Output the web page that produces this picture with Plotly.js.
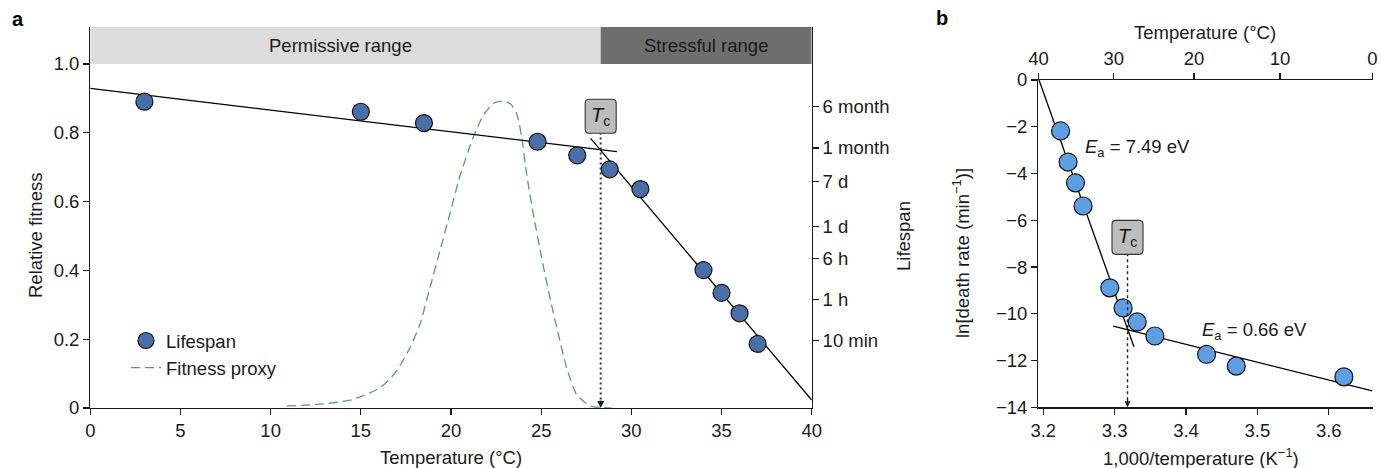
<!DOCTYPE html>
<html>
<head>
<meta charset="utf-8">
<script src="https://cdn.plot.ly/plotly-3.0.1.min.js"></script>
<style>html,body{margin:0;padding:0;background:#fff;}#chart{width:1381px;height:468px;}</style>
</head>
<body>
<div id="chart"></div>
<script>
// ---------- Data (panel a) ----------
const A_TEMP = [3, 15, 18.5, 24.8, 27, 28.8, 30.5, 34, 35, 36, 37];
const A_LIFESPAN_MIN = [322000, 208400, 127600, 56600, 31400, 17100, 7260, 215, 80, 32.9, 8.7];
const A_FIT1_T = [0, 29.2];
const A_FIT1_L = [575000, 36700];
const A_FIT2_T = [27.74, 40];
const A_FIT2_L = [65600, 0.762];
const PROXY_T = [10.9, 12.74, 14.59, 16.07, 16.99, 17.73, 18.28, 18.84, 19.39, 19.94, 20.5, 21.24, 21.79, 22.34, 22.81, 23.27, 23.64, 23.92, 24.19, 24.56, 25.02, 25.48, 25.95, 26.41, 26.96, 27.7, 28.44, 28.9];
const PROXY_FIT = [0.006, 0.011, 0.025, 0.059, 0.108, 0.176, 0.244, 0.351, 0.458, 0.565, 0.675, 0.788, 0.851, 0.885, 0.892, 0.885, 0.856, 0.788, 0.681, 0.565, 0.438, 0.322, 0.215, 0.117, 0.040, 0.006, 0.001, 0];
const A_XTICKS = [0, 5, 10, 15, 20, 25, 30, 35, 40];
const A_YTICKS = [0, 0.2, 0.4, 0.6, 0.8, 1.0];
const A_YTICKTEXT = ['0', '0.2', '0.4', '0.6', '0.8', '1.0'];
const LIFE_TICK_MIN = [10, 60, 360, 1440, 10080, 43200, 259200];
const LIFE_TICK_TEXT = ['10 min', '1 h', '6 h', '1 d', '7 d', '1 month', '6 month'];
const RANGES = ['Permissive range', 'Stressful range'];
const RANGE_EDGES = [0, 28.3, 40];
const TC_A = 28.3;

// ---------- Data (panel b) ----------
const B_INVT = [3.2242, 3.2347, 3.2451, 3.2557, 3.2932, 3.3118, 3.3316, 3.3563, 3.4288, 3.4704, 3.6212];
const B_LNRATE = [-2.18, -3.51, -4.40, -5.39, -8.89, -9.75, -10.35, -10.95, -11.74, -12.24, -12.70];
const B_FIT1_X = [3.194, 3.327];
const B_FIT1_Y = [0, -11.41];
const B_FIT2_X = [3.298, 3.661];
const B_FIT2_Y = [-10.53, -13.30];
const B_XTICKS = [3.2, 3.3, 3.4, 3.5, 3.6];
const B_XTICKTEXT = ['3.2', '3.3', '3.4', '3.5', '3.6'];
const B_TOP_C = [40, 30, 20, 10, 0];
const B_YTICKS = [0, -2, -4, -6, -8, -10, -12, -14];
const B_YTICKTEXT = ['0', '\u22122', '\u22124', '\u22126', '\u22128', '\u221210', '\u221212', '\u221214'];
const EA_LABELS = ['<i>E</i><sub>a</sub> = 7.49 eV', '<i>E</i><sub>a</sub> = 0.66 eV'];
const TC_B = 3.318;

// ---------- Layout helpers ----------
const W = 1381, H = 468;
const px = v => v / W;
const py = v => 1 - v / H;
const FONT = 'Liberation Sans, Arial, Helvetica, sans-serif';
const FS = 18.5;
const INK = '#1a1a1a';
const B_RANGE = [3.193, 3.6613];
const axisCommon = {
  showline: true, linecolor: INK, linewidth: 1.2, ticks: 'outside', ticklen: 6, tickwidth: 1.2,
  tickcolor: INK, showgrid: false, zeroline: false, fixedrange: true,
  tickfont: {family: FONT, size: FS, color: INK}
};

const traces = [
  {x: PROXY_T, y: PROXY_FIT, xaxis: 'x', yaxis: 'y', mode: 'lines', name: 'Fitness proxy',
   line: {color: '#52a062', width: 1.3, dash: '9px,5px', shape: 'spline', smoothing: 0.6},
   legendgroup: 'g2', legendrank: 2, hoverinfo: 'skip'},
  {x: A_FIT1_T, y: A_FIT1_L, xaxis: 'x', yaxis: 'y2', mode: 'lines', showlegend: false,
   line: {color: '#000', width: 1.3}, hoverinfo: 'skip'},
  {x: A_FIT2_T, y: A_FIT2_L, xaxis: 'x', yaxis: 'y2', mode: 'lines', showlegend: false,
   line: {color: '#000', width: 1.3}, hoverinfo: 'skip'},
  {x: A_TEMP, y: A_LIFESPAN_MIN, xaxis: 'x', yaxis: 'y2', mode: 'markers', name: 'Lifespan',
   marker: {size: 17, color: '#4a6fa8', line: {color: '#111', width: 1.2}},
   legendgroup: 'g1', legendrank: 1},
  {x: B_FIT1_X, y: B_FIT1_Y, xaxis: 'x2', yaxis: 'y3', mode: 'lines', showlegend: false,
   line: {color: '#000', width: 1.3}, hoverinfo: 'skip'},
  {x: B_FIT2_X, y: B_FIT2_Y, xaxis: 'x2', yaxis: 'y3', mode: 'lines', showlegend: false,
   line: {color: '#000', width: 1.3}, hoverinfo: 'skip'},
  {x: B_INVT, y: B_LNRATE, xaxis: 'x2', yaxis: 'y3', mode: 'markers', showlegend: false,
   marker: {size: 18, color: '#5e9ee2', line: {color: '#111', width: 1.2}}},
  // carrier for the top temperature axis of panel b (no visible marks)
  {x: B_INVT, y: B_LNRATE, xaxis: 'x3', yaxis: 'y3', mode: 'markers', showlegend: false,
   marker: {size: 1, opacity: 0}, hoverinfo: 'skip'}
];

const boxPath = 'M -11.5 -17 L 11.5 -17 Q 15.5 -17 15.5 -13 L 15.5 13 Q 15.5 17 11.5 17 L -11.5 17 Q -15.5 17 -15.5 13 L -15.5 -13 Q -15.5 -17 -11.5 -17 Z';

const shapes = [
  {type: 'rect', xref: 'x', yref: 'y', x0: RANGE_EDGES[0], x1: RANGE_EDGES[1], y0: 1.0, y1: 1.1076,
   fillcolor: '#dcdcdc', line: {width: 0}, layer: 'below'},
  {type: 'rect', xref: 'x', yref: 'y', x0: RANGE_EDGES[1], x1: RANGE_EDGES[2], y0: 1.0, y1: 1.1076,
   fillcolor: '#6e6e6e', line: {width: 0}, layer: 'below'},
  {type: 'line', xref: 'x', yref: 'y', x0: TC_A, x1: TC_A, y0: 0.01, y1: 0.80,
   line: {color: '#333', width: 2, dash: '2px,3px'}},
  {type: 'path', xref: 'x', yref: 'y', xsizemode: 'pixel', ysizemode: 'pixel', xanchor: TC_A, yanchor: 0.848,
   path: boxPath, fillcolor: '#bdbdbd', line: {color: '#333', width: 1.1}},
  {type: 'line', xref: 'x2', yref: 'y3', x0: TC_B, x1: TC_B, y0: -13.7, y1: -7.45,
   line: {color: '#222', width: 1.4, dash: '3px,3px'}},
  {type: 'path', xref: 'x2', yref: 'y3', xsizemode: 'pixel', ysizemode: 'pixel', xanchor: TC_B, yanchor: -6.73,
   path: boxPath, fillcolor: '#bdbdbd', line: {color: '#333', width: 1.1}}
];

const ann = (text, x, y, opts) => Object.assign({text, x, y, xref: 'paper', yref: 'paper', showarrow: false,
  xanchor: 'center', yanchor: 'middle', font: {family: FONT, size: FS, color: INK}}, opts || {});

const annotations = [
  ann('<b>a</b>', px(18), py(19), {font: {family: FONT, size: 20, color: '#000'}}),
  ann('<b>b</b>', px(942), py(18), {font: {family: FONT, size: 20, color: '#000'}}),
  ann(RANGES[0], (RANGE_EDGES[0] + RANGE_EDGES[1]) / 2 - 0.3, 1.054, {xref: 'x', yref: 'y'}),
  ann(RANGES[1], (RANGE_EDGES[1] + RANGE_EDGES[2]) / 2, 1.054, {xref: 'x', yref: 'y'}),
  ann('Relative fitness', px(35), py(236), {textangle: -90}),
  ann('Lifespan', px(903), py(236), {textangle: -90}),
  ann('Temperature (\u00b0C)', px(451), py(457)),
  ann('<i>T</i><sub>c</sub>', TC_A, 0.848, {xref: 'x', yref: 'y', font: {family: FONT, size: 20, color: '#111'}}),
  {x: TC_A, y: 0, xref: 'x', yref: 'y', ax: 0, ay: -9, text: '', showarrow: true, arrowhead: 2,
   arrowsize: 1, arrowwidth: 1.4, arrowcolor: '#222', standoff: 0},
  ann('Temperature (\u00b0C)', px(1205), py(33)),
  ann('1,000/temperature (K<sup>\u22121</sup>)', px(1201), py(457)),
  ann('ln[death rate (min<sup>\u22121</sup>)]', px(961), py(253), {textangle: -90}),
  ann(EA_LABELS[0], px(1083), py(148), {xanchor: 'left'}),
  ann(EA_LABELS[1], px(1200), py(331), {xanchor: 'left'}),
  ann('<i>T</i><sub>c</sub>', TC_B, -6.73, {xref: 'x2', yref: 'y3', font: {family: FONT, size: 20, color: '#111'}}),
  {x: TC_B, y: -14, xref: 'x2', yref: 'y3', ax: 0, ay: -9, text: '', showarrow: true, arrowhead: 2,
   arrowsize: 1, arrowwidth: 1.2, arrowcolor: '#222', standoff: 0}
];

const layout = {
  width: W, height: H, margin: {l: 0, r: 0, t: 0, b: 0},
  paper_bgcolor: '#fff', plot_bgcolor: 'rgba(0,0,0,0)',
  font: {family: FONT, size: FS, color: INK},
  showlegend: true,
  legend: {x: px(126), y: py(322), xanchor: 'left', yanchor: 'top', bgcolor: 'rgba(0,0,0,0)',
           font: {family: FONT, size: FS, color: INK}, traceorder: 'grouped', tracegroupgap: 0},
  xaxis: Object.assign({}, axisCommon, {domain: [px(90.3), px(811.7)], range: [0, 40], anchor: 'y',
           tickvals: A_XTICKS}),
  yaxis: Object.assign({}, axisCommon, {domain: [60 / H, 441 / H], range: [0, 1.1076], anchor: 'x',
           tickvals: A_YTICKS, ticktext: A_YTICKTEXT}),
  yaxis2: Object.assign({}, axisCommon, {overlaying: 'y', side: 'right', anchor: 'x', type: 'log',
           range: [-0.269, 6.917], tickvals: LIFE_TICK_MIN, ticktext: LIFE_TICK_TEXT}),
  xaxis2: Object.assign({}, axisCommon, {domain: [px(1038.3), px(1372.5)], range: B_RANGE, anchor: 'y3',
           tickvals: B_XTICKS, ticktext: B_XTICKTEXT}),
  xaxis3: Object.assign({}, axisCommon, {overlaying: 'x2', side: 'top', anchor: 'y3', range: B_RANGE,
           tickvals: B_TOP_C.map(c => 1000 / (c + 273.15)), ticktext: B_TOP_C.map(String)}),
  yaxis3: Object.assign({}, axisCommon, {domain: [(H - 407.3) / H, (H - 80) / H], range: [-14, 0], anchor: 'x2',
           tickvals: B_YTICKS, ticktext: B_YTICKTEXT}),
  shapes, annotations
};

Plotly.newPlot('chart', traces, layout, {displayModeBar: false, staticPlot: true});
</script>
</body>
</html>
